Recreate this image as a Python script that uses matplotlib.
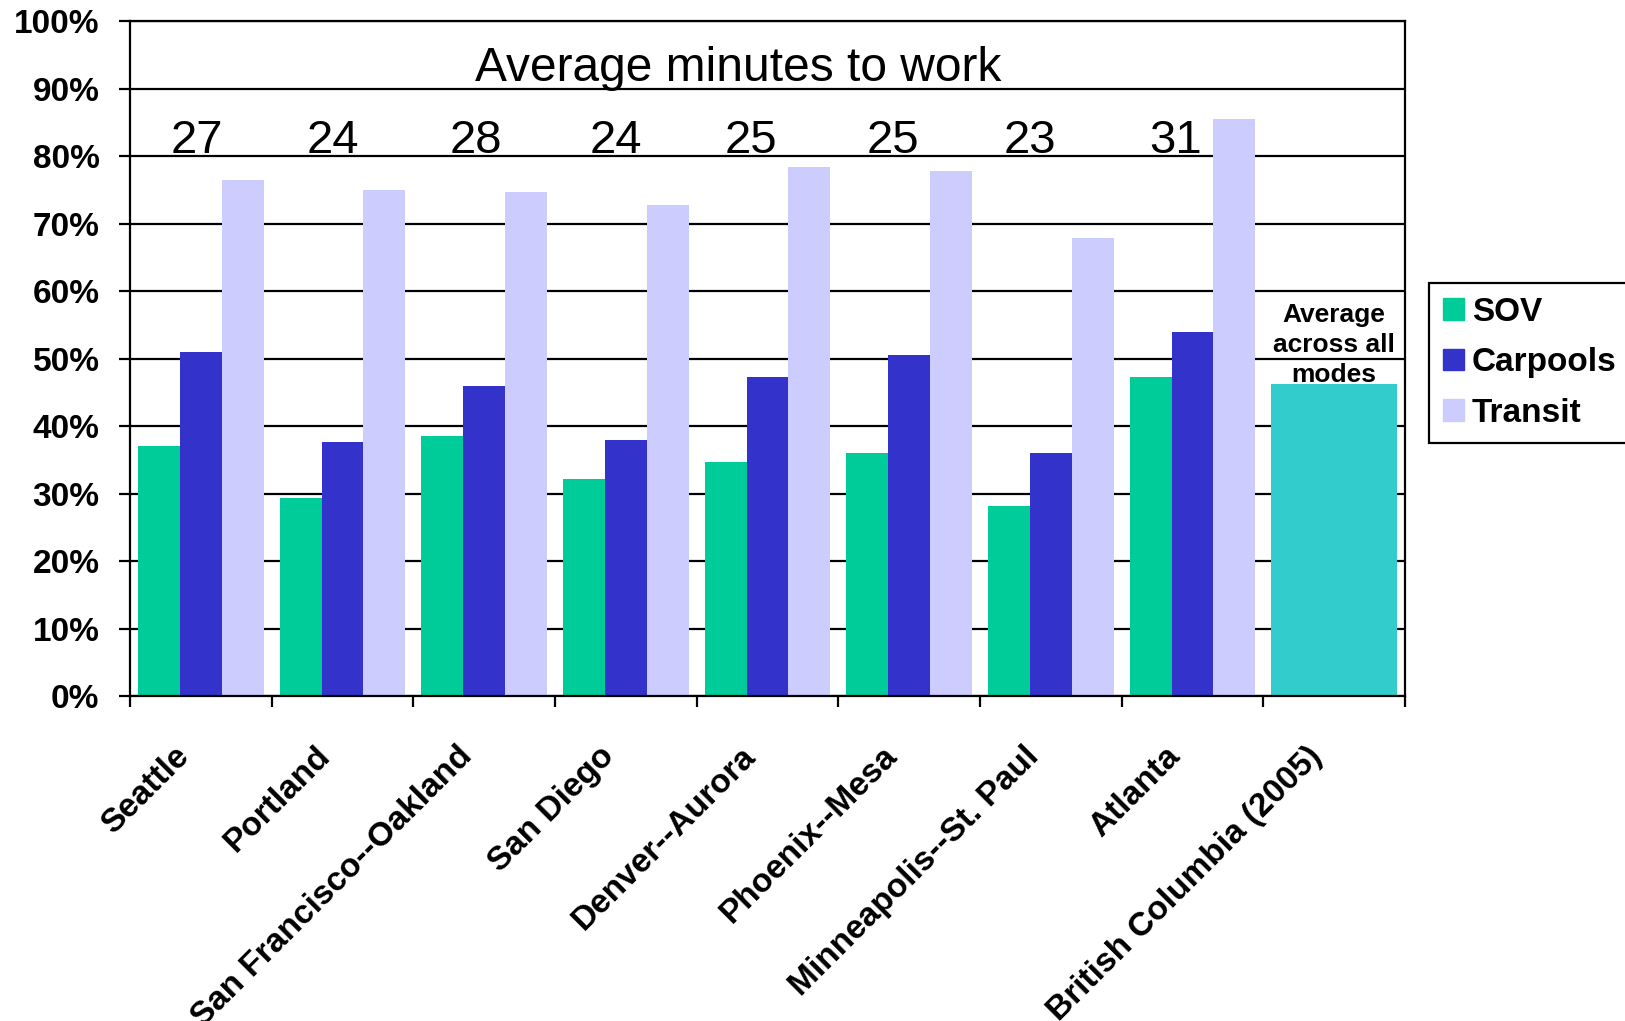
import numpy as np
import matplotlib.pyplot as plt
from matplotlib.patches import Patch
from matplotlib.ticker import FixedLocator, PercentFormatter

plt.rcParams['font.family'] = ['Liberation Sans', 'DejaVu Sans']

# share of commuters (%) by mode, per metro area
cities = ['Seattle', 'Portland', 'San Francisco--Oakland', 'San Diego',
          'Denver--Aurora', 'Phoenix--Mesa', 'Minneapolis--St. Paul', 'Atlanta']
sov = [37.1, 29.4, 38.5, 32.1, 34.6, 36.0, 28.1, 47.2]
carpools = [50.9, 37.7, 45.9, 38.0, 47.2, 50.5, 36.0, 54.0]
transit = [76.5, 75.0, 74.7, 72.8, 78.4, 77.8, 67.9, 85.5]
minutes = [27, 24, 28, 24, 25, 25, 23, 31]

bc_label = 'British Columbia (2005)'
bc_all_modes = 46.2

c_sov = '#00CC99'
c_carpool = '#3333CC'
c_transit = '#CCCCFF'
c_bc = '#33CCCC'

# horizontal nudge (points) of each minutes label, left of the group centre
minute_nudge = [-3, -7, -6, -7, -12, -12, -15, -12]

fig = plt.figure(figsize=(16.25, 10.21), dpi=100)
ax = fig.add_axes([0.080, 0.3183, 0.7846, 0.6611])

x = np.arange(len(cities))
w = 0.295
ax.bar(x - w, sov, w, color=c_sov)
ax.bar(x, carpools, w, color=c_carpool)
ax.bar(x + w, transit, w, color=c_transit)
bc_x = len(cities)
ax.bar(bc_x, bc_all_modes, 3 * w, color=c_bc)

ax.set_xlim(-0.5, bc_x + 0.5)
ax.set_ylim(0, 100)

# y axis: percent ticks with black gridlines
ax.yaxis.set_major_locator(FixedLocator(range(0, 101, 10)))
ax.yaxis.set_major_formatter(PercentFormatter(decimals=0))
ax.grid(axis='y', color='black', linewidth=1.6)
ax.set_axisbelow(True)
ax.tick_params(axis='y', direction='out', length=8, width=1.6, pad=14,
               labelsize=24)
for lbl in ax.get_yticklabels():
    lbl.set_fontweight('bold')

# x axis: ticks between groups, rotated labels under each group
ax.set_xticks(np.arange(-0.5, bc_x + 1), labels=[])
ax.tick_params(axis='x', direction='out', length=8, width=1.6)
for i, name in enumerate(cities + [bc_label]):
    ax.annotate(name, xy=(i, 0), xycoords=ax.get_xaxis_transform(),
                xytext=(-12, -40), textcoords='offset points',
                rotation=45, rotation_mode='anchor', ha='right', va='center',
                fontsize=24, fontweight='bold')

for s in ax.spines.values():
    s.set_color('black')
    s.set_linewidth(1.6)

# commute times above each group
ax.text(0.477, 91.1, 'Average minutes to work', transform=ax.get_yaxis_transform(),
        ha='center', va='baseline', fontsize=34.5)
for i, m in enumerate(minutes):
    ax.annotate(str(m), xy=(i, 80.4), xytext=(minute_nudge[i], 0),
                textcoords='offset points', ha='center', va='baseline',
                fontsize=34)

ax.text(bc_x, bc_all_modes - 0.4, 'Average\nacross all\nmodes', ha='center',
        va='bottom', fontsize=19, fontweight='bold', linespacing=1.32)

handles = [Patch(color=c_sov, label='SOV'),
           Patch(color=c_carpool, label='Carpools'),
           Patch(color=c_transit, label='Transit')]
leg = fig.legend(handles=handles, loc='upper left', bbox_to_anchor=(0.8794, 0.7228),
                 frameon=True, fancybox=False, edgecolor='black', framealpha=1,
                 prop={'size': 24, 'weight': 'bold'}, handlelength=0.62,
                 handleheight=0.62, handletextpad=0.25, labelspacing=0.58,
                 borderpad=0.42, borderaxespad=0)
leg.get_frame().set_linewidth(1.6)

fig.savefig('out.png', dpi=100)
